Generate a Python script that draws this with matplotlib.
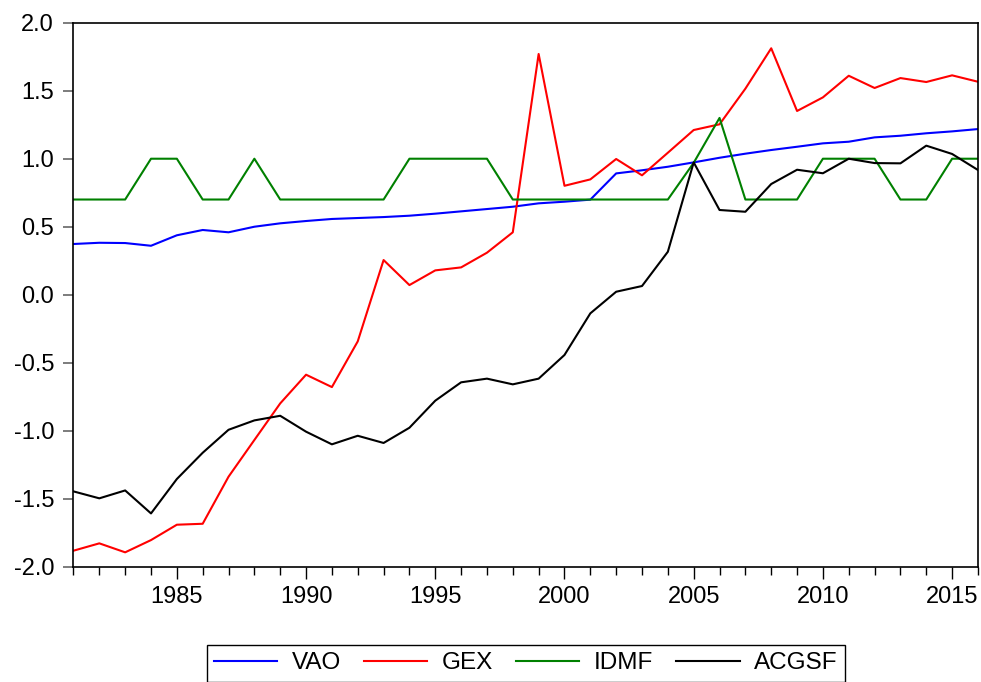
import numpy as np
import matplotlib.pyplot as plt

plt.rcParams.update({
    "font.family": ["Liberation Sans", "DejaVu Sans"],
    "axes.unicode_minus": False,
})

years = np.arange(1981, 2017)

vao = [0.373, 0.382, 0.380, 0.360, 0.437, 0.476, 0.459, 0.500, 0.525, 0.542,
       0.557, 0.564, 0.571, 0.581, 0.596, 0.613, 0.630, 0.647, 0.672, 0.684,
       0.699, 0.892, 0.915, 0.941, 0.973, 1.007, 1.037, 1.064, 1.088, 1.113,
       1.125, 1.157, 1.169, 1.187, 1.201, 1.218]

gex = [-1.882, -1.828, -1.894, -1.804, -1.691, -1.684, -1.338, -1.068, -0.799, -0.588,
       -0.679, -0.343, 0.255, 0.071, 0.179, 0.201, 0.309, 0.459, 1.770, 0.801,
       0.848, 0.998, 0.878, 1.044, 1.211, 1.253, 1.515, 1.812, 1.351, 1.451,
       1.610, 1.520, 1.593, 1.564, 1.613, 1.566]

idmf = [0.7, 0.7, 0.7, 1.0, 1.0, 0.7, 0.7, 1.0, 0.7, 0.7,
        0.7, 0.7, 0.7, 1.0, 1.0, 1.0, 1.0, 0.7, 0.7, 0.7,
        0.7, 0.7, 0.7, 0.7, 0.97, 1.3, 0.7, 0.7, 0.7, 1.0,
        1.0, 1.0, 0.7, 0.7, 1.0, 1.0]

acgsf = [-1.446, -1.497, -1.439, -1.608, -1.355, -1.162, -0.993, -0.924, -0.890, -1.007,
         -1.100, -1.037, -1.090, -0.978, -0.779, -0.644, -0.617, -0.659, -0.617, -0.443,
         -0.137, 0.022, 0.064, 0.316, 0.973, 0.623, 0.610, 0.814, 0.919, 0.893,
         1.000, 0.968, 0.966, 1.096, 1.035, 0.917]

names = ["VAO", "GEX", "IDMF", "ACGSF"]
colors = ["#0000ff", "#ff0000", "#008000", "#000000"]

fig = plt.figure(figsize=(9.81, 6.82), dpi=100)
ax = fig.add_axes([0.0749, 0.169, 0.922, 0.7977])

for series, name, c in zip([vao, gex, idmf, acgsf], names, colors):
    ax.plot(years, series, color=c, lw=1.5, label=name)

ax.set_xlim(1981, 2016)
ax.set_ylim(-2.0, 2.0)
ax.set_xticks(np.arange(1985, 2016, 5))
ax.set_xticks(years, minor=True)
ax.set_yticks(np.arange(-2.0, 2.01, 0.5))
ax.yaxis.set_major_formatter(plt.FormatStrFormatter('%.1f'))

ax.tick_params(axis='x', which='major', direction='out', length=8.6, width=1,
               labelsize=17, pad=5.5)
ax.tick_params(axis='x', which='minor', direction='out', length=5.5, width=1)
ax.tick_params(axis='y', which='major', direction='out', length=7, width=1.2,
               color='#666666', labelsize=17, pad=7)
for s in ax.spines.values():
    s.set_linewidth(1.2)

fig.legend(loc='upper center', bbox_to_anchor=(0.536, 0.054), ncol=4,
           fontsize=17.5, frameon=True, fancybox=False, edgecolor='black',
           handlelength=2.6, columnspacing=0.95, handletextpad=0.6,
           borderpad=0.3, borderaxespad=0, framealpha=1)

fig.savefig("out.png", dpi=100)
